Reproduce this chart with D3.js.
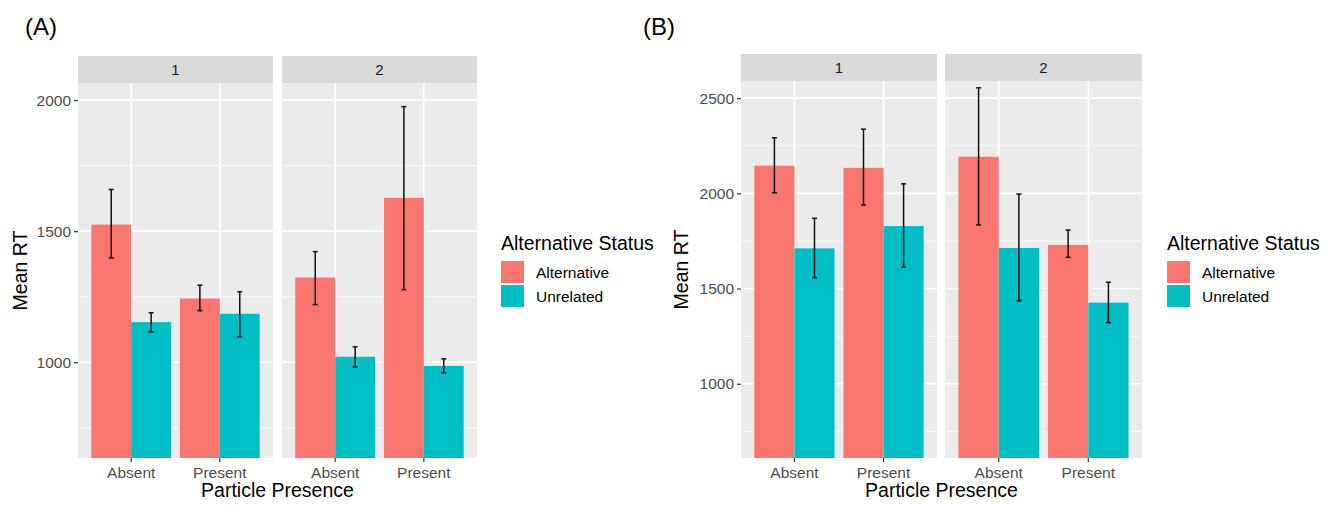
<!DOCTYPE html>
<html>
<head>
<meta charset="utf-8">
<script src="https://cdn.jsdelivr.net/npm/d3@7"></script>
<style>
  body { margin: 0; background: #fff; }
  svg text { font-family: "Liberation Sans", Arial, sans-serif; }
</style>
</head>
<body>
<div id="chart"></div>
<script>
// data
const facets = ["1", "2"];
const categories = ["Absent", "Present"];
const statuses = ["Alternative", "Unrelated"];
const colors = ["#F8766D", "#00BFC4"];

// order: facet 1 Absent, facet 1 Present, facet 2 Absent, facet 2 Present
const aAltMean = [1525, 1243, 1323, 1627];
const aAltLo   = [1398, 1197, 1220, 1277];
const aAltHi   = [1659, 1294, 1422, 1975];
const aUnrMean = [1153, 1185, 1021, 986];
const aUnrLo   = [1116, 1097, 982, 960];
const aUnrHi   = [1189, 1269, 1059, 1013];

const bAltMean = [2145, 2134, 2192, 1729];
const bAltLo   = [2003, 1939, 1834, 1664];
const bAltHi   = [2292, 2337, 2554, 1807];
const bUnrMean = [1711, 1828, 1713, 1426];
const bUnrLo   = [1557, 1612, 1435, 1321];
const bUnrHi   = [1869, 2050, 1996, 1533];

const aTicks = [1000, 1500, 2000];
const aMinor = [750, 1250, 1750];
const bTicks = [1000, 1500, 2000, 2500];
const bMinor = [750, 1250, 1750, 2250];

function rows(altM, altL, altH, unrM, unrL, unrH) {
  const out = [];
  facets.forEach((f, fi) => categories.forEach((c, ci) => {
    const i = fi * 2 + ci;
    out.push({facet: f, cat: c, status: statuses[0], mean: altM[i], lo: altL[i], hi: altH[i]});
    out.push({facet: f, cat: c, status: statuses[1], mean: unrM[i], lo: unrL[i], hi: unrH[i]});
  }));
  return out;
}

const svg = d3.select("#chart").append("svg")
  .attr("width", 1338).attr("height", 505);

function drawChart(cfg) {
  const g = svg.append("g");
  const y = d3.scaleLinear().domain(cfg.ydomain).range([cfg.bottom, cfg.top]);

  g.append("text").attr("x", cfg.tagX).attr("y", 35)
    .attr("font-size", 24).attr("fill", "#000").text(cfg.tag);

  facets.forEach((f, fi) => {
    const x0 = cfg.panels[fi][0], x1 = cfg.panels[fi][1];
    const x = d3.scaleBand().domain(categories).range([x0, x1])
      .paddingInner(0.1).paddingOuter(0.15);
    const xs = d3.scaleBand().domain(statuses).range([0, x.bandwidth()]);
    const centre = c => x(c) + x.bandwidth() / 2;

    // strip
    g.append("rect").attr("x", x0).attr("y", cfg.stripTop)
      .attr("width", x1 - x0).attr("height", cfg.top - cfg.stripTop).attr("fill", "#d9d9d9");
    g.append("text").attr("x", (x0 + x1) / 2).attr("y", (cfg.stripTop + cfg.top) / 2 + 5)
      .attr("text-anchor", "middle").attr("font-size", 15).attr("fill", "#1a1a1a").text(f);

    // panel background + grid
    g.append("rect").attr("x", x0).attr("y", cfg.top)
      .attr("width", x1 - x0).attr("height", cfg.bottom - cfg.top).attr("fill", "#ebebeb");
    g.selectAll(null).data(cfg.minor).join("line")
      .attr("x1", x0).attr("x2", x1).attr("y1", d => y(d)).attr("y2", d => y(d))
      .attr("stroke", "#fff").attr("stroke-width", 0.8);
    g.selectAll(null).data(cfg.ticks).join("line")
      .attr("x1", x0).attr("x2", x1).attr("y1", d => y(d)).attr("y2", d => y(d))
      .attr("stroke", "#fff").attr("stroke-width", 1.6);
    g.selectAll(null).data(categories).join("line")
      .attr("x1", centre).attr("x2", centre).attr("y1", cfg.top).attr("y2", cfg.bottom)
      .attr("stroke", "#fff").attr("stroke-width", 1.6);

    const data = cfg.data.filter(d => d.facet === f);
    g.selectAll(null).data(data).join("rect")
      .attr("x", d => x(d.cat) + xs(d.status))
      .attr("width", xs.bandwidth())
      .attr("y", d => y(d.mean))
      .attr("height", d => cfg.bottom - y(d.mean))
      .attr("fill", d => colors[statuses.indexOf(d.status)]);

    // error bars
    const ex = d => x(d.cat) + xs(d.status) + xs.bandwidth() / 2;
    const eb = g.selectAll(null).data(data).join("g").attr("stroke", "#111").attr("stroke-width", 1.5);
    eb.append("line").attr("x1", ex).attr("x2", ex).attr("y1", d => y(d.lo)).attr("y2", d => y(d.hi));
    eb.append("line").attr("x1", d => ex(d) - 2.5).attr("x2", d => ex(d) + 2.5)
      .attr("y1", d => y(d.lo)).attr("y2", d => y(d.lo));
    eb.append("line").attr("x1", d => ex(d) - 2.5).attr("x2", d => ex(d) + 2.5)
      .attr("y1", d => y(d.hi)).attr("y2", d => y(d.hi));

    // x axis
    const xa = g.append("g").attr("transform", `translate(0,${cfg.bottom})`)
      .call(d3.axisBottom(x).tickSize(4).tickPadding(5));
    xa.select(".domain").remove();
    xa.selectAll(".tick line").attr("stroke", "#333").attr("stroke-width", 1.2);
    xa.selectAll(".tick text").attr("font-size", 15.5).attr("fill", "#4d4d4d")
      .attr("font-family", "Liberation Sans, Arial, sans-serif");
  });

  // y axis
  const ya = g.append("g").attr("transform", `translate(${cfg.panels[0][0]},0)`)
    .call(d3.axisLeft(y).tickValues(cfg.ticks).tickSize(4).tickPadding(3).tickFormat(d3.format("d")));
  ya.select(".domain").remove();
  ya.selectAll(".tick line").attr("stroke", "#333").attr("stroke-width", 1.2);
  ya.selectAll(".tick text").attr("font-size", 15.5).attr("fill", "#4d4d4d")
    .attr("font-family", "Liberation Sans, Arial, sans-serif");

  // axis titles
  const mid = (cfg.panels[0][0] + cfg.panels[1][1]) / 2;
  g.append("text").attr("x", mid).attr("y", 497).attr("text-anchor", "middle")
    .attr("font-size", 19.5).attr("fill", "#000").text("Particle Presence");
  g.append("text").attr("transform", `translate(${cfg.ytitleX},${(cfg.top + cfg.bottom) / 2}) rotate(-90)`)
    .attr("text-anchor", "middle").attr("font-size", 19.5).attr("fill", "#000").text("Mean RT");

  // legend
  g.append("text").attr("x", cfg.legendX).attr("y", 250)
    .attr("font-size", 19.5).attr("fill", "#000").text("Alternative Status");
  statuses.forEach((s, i) => {
    g.append("rect").attr("x", cfg.legendX).attr("y", 261 + i * 24)
      .attr("width", 23).attr("height", 22).attr("fill", colors[i]);
    g.append("text").attr("x", cfg.legendX + 35).attr("y", 278 + i * 24)
      .attr("font-size", 15.5).attr("fill", "#000").text(s);
  });
}

drawChart({
  tag: "(A)", tagX: 25,
  data: rows(aAltMean, aAltLo, aAltHi, aUnrMean, aUnrLo, aUnrHi),
  ydomain: [635, 2065], ticks: aTicks, minor: aMinor,
  panels: [[78, 273], [282, 477]],
  stripTop: 56, top: 83, bottom: 458,
  ytitleX: 27, legendX: 501
});

drawChart({
  tag: "(B)", tagX: 643,
  data: rows(bAltMean, bAltLo, bAltHi, bUnrMean, bUnrLo, bUnrHi),
  ydomain: [610, 2590], ticks: bTicks, minor: bMinor,
  panels: [[741, 937], [945, 1142]],
  stripTop: 54, top: 81, bottom: 458,
  ytitleX: 688, legendX: 1167
});
</script>
</body>
</html>
